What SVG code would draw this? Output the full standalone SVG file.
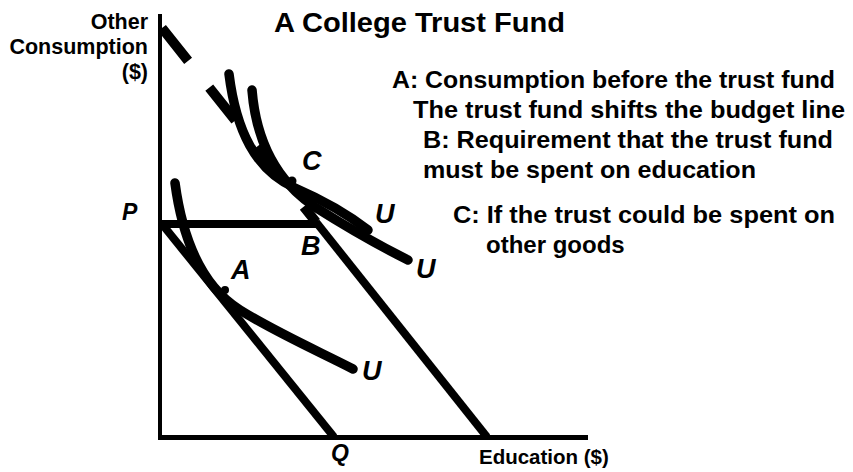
<svg xmlns="http://www.w3.org/2000/svg" width="853" height="472" viewBox="0 0 853 472">
<style>
.t{font-family:"Liberation Sans",Arial,sans-serif;font-weight:bold;fill:#000}
.lbl{font-family:"Liberation Sans",Arial,sans-serif;font-weight:bold;font-style:italic;fill:#000}
.ln{stroke:#000;fill:none;stroke-linecap:butt}
.cv{stroke:#000;fill:none;stroke-width:9.5;stroke-linecap:round;stroke-linejoin:round}
</style>
<rect width="853" height="472" fill="#fff"/>
<text class="t" x="274" y="32" font-size="27" textLength="291" lengthAdjust="spacingAndGlyphs">A College Trust Fund</text>
<g id="axis-labels">
<text class="t" font-size="21.5" text-anchor="end" x="148" y="29">Other</text>
<text class="t" font-size="21.5" text-anchor="end" x="148" y="54">Consumption</text>
<text class="t" font-size="21.5" text-anchor="end" x="148" y="79">($)</text>
<text class="t" font-size="20.5" x="479" y="464">Education ($)</text>
</g>
<g id="axes">
<line class="ln" x1="160" y1="14" x2="160" y2="440" stroke-width="4"/>
<line class="ln" x1="158" y1="437.5" x2="588" y2="437.5" stroke-width="5"/>
</g>
<g id="connectors">
<line class="ln" x1="162" y1="224" x2="334" y2="437" stroke-width="8"/>
<line class="ln" x1="160" y1="224" x2="318" y2="224" stroke-width="8"/>
<line class="ln" x1="316" y1="222" x2="487" y2="437" stroke-width="8"/>
<line class="ln" x1="162" y1="28" x2="316" y2="222" stroke-width="10" stroke-dasharray="42 34"/>
</g>
<g id="curves">
<path class="cv" d="M175,183 C182,235 200,285 240,310 C275,332 320,352 353,369"/>
<path class="cv" d="M229,74 C236,130 255,170 295,188 C325,201 350,216 368,230"/>
<path class="cv" d="M252,90 C256,140 275,180 315,207 C345,226 380,246 408,260"/>
<circle cx="292" cy="181" r="4.5" fill="#000"/>
<circle cx="225" cy="290" r="4" fill="#000"/>
</g>
<g id="point-labels">
<text class="lbl" font-size="23" x="122" y="220">P</text>
<text class="lbl" font-size="23" x="331" y="461">Q</text>
<text class="lbl" font-size="27" x="302" y="170">C</text>
<text class="lbl" font-size="27" x="301" y="255">B</text>
<text class="lbl" font-size="27" x="231" y="279">A</text>
<text class="lbl" font-size="27" x="375" y="223">U</text>
<text class="lbl" font-size="27" x="416" y="278">U</text>
<text class="lbl" font-size="27" x="362" y="380">U</text>
</g>
<g id="notes">
<text class="t" font-size="24" x="392" y="88" textLength="443" lengthAdjust="spacingAndGlyphs">A: Consumption before the trust fund</text>
<text class="t" font-size="24" x="413" y="118" textLength="432" lengthAdjust="spacingAndGlyphs">The trust fund shifts the budget line</text>
<text class="t" font-size="24" x="423" y="148" textLength="410" lengthAdjust="spacingAndGlyphs">B: Requirement that the trust fund</text>
<text class="t" font-size="24" x="423" y="178" textLength="333" lengthAdjust="spacingAndGlyphs">must be spent on education</text>
<text class="t" font-size="24" x="453" y="223" textLength="382" lengthAdjust="spacingAndGlyphs">C: If the trust could be spent on</text>
<text class="t" font-size="24" x="486" y="253">other goods</text>
</g>
</svg>
